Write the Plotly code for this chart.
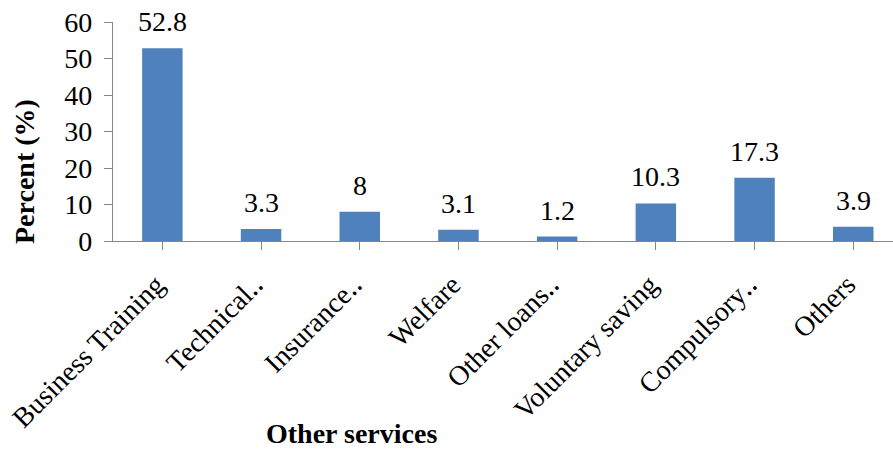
import plotly.graph_objects as go

# Share of respondents using each additional service
services = [
    "Business Training",
    "Technical‥",
    "Insurance‥",
    "Welfare",
    "Other loans‥",
    "Voluntary saving",
    "Compulsory‥",
    "Others",
]
percent = [52.8, 3.3, 8, 3.1, 1.2, 10.3, 17.3, 3.9]
y_ticks = [0, 10, 20, 30, 40, 50, 60]

FONT = "Liberation Serif, Times New Roman, serif"
BAR_COLOR = "#4F81BD"
AXIS_COLOR = "#868686"

fig = go.Figure()
fig.add_trace(
    go.Bar(
        x=list(range(len(services))),
        y=percent,
        width=0.41,
        marker=dict(color=BAR_COLOR, line=dict(width=0)),
        showlegend=False,
    )
)

# Value labels above each bar
for i, v in enumerate(percent):
    fig.add_annotation(
        x=i, y=v, xref="x", yref="y",
        text=f"{v:g}",
        showarrow=False,
        yanchor="bottom",
        yshift=9,
        font=dict(family=FONT, size=28, color="black"),
    )

W, H = 893, 450
L, T, B, R = 113, 22, 209, 0


def px_to_paper(px, py):
    return (px - L) / (W - L - R), 1 - (py - T) / (H - T - B)


# Axis titles
tx, ty = px_to_paper(351, 433)
fig.add_annotation(
    x=tx, y=ty, xref="paper", yref="paper", xanchor="center", yanchor="middle",
    text="<b>Other services</b>", showarrow=False,
    font=dict(family=FONT, size=28, color="black"),
)
tx, ty = px_to_paper(24, 172)
fig.add_annotation(
    x=tx, y=ty, xref="paper", yref="paper", xanchor="center", yanchor="middle",
    text="<b>Percent (%)</b>", showarrow=False, textangle=-90,
    font=dict(family=FONT, size=28, color="black"),
)

fig.update_layout(
    width=W,
    height=H,
    margin=dict(l=L, r=R, t=T, b=B, pad=0),
    plot_bgcolor="white",
    paper_bgcolor="white",
    font=dict(family=FONT, size=28, color="black"),
)

fig.update_xaxes(
    tickmode="array",
    tickvals=list(range(len(services))),
    ticktext=services,
    tickangle=-45,
    range=[-0.5, -0.5 + (W - L - R) / 98.7],
    showline=True,
    linecolor=AXIS_COLOR,
    linewidth=1.3,
    ticks="outside",
    tickson="boundaries",
    ticklen=8,
    tickcolor=AXIS_COLOR,
    tickwidth=1.3,
    showgrid=False,
    zeroline=False,
    ticklabelshift=-6,
    ticklabelstandoff=7,
    tickfont=dict(family=FONT, size=28, color="black"),
)

fig.update_yaxes(
    range=[0, 60],
    tickmode="array",
    tickvals=y_ticks,
    showline=True,
    linecolor=AXIS_COLOR,
    linewidth=1.3,
    ticks="outside",
    ticklen=8,
    tickcolor=AXIS_COLOR,
    tickwidth=1.3,
    showgrid=False,
    zeroline=False,
    ticklabelstandoff=6,
    tickfont=dict(family=FONT, size=28, color="black"),
)

fig.write_html("out.html")
